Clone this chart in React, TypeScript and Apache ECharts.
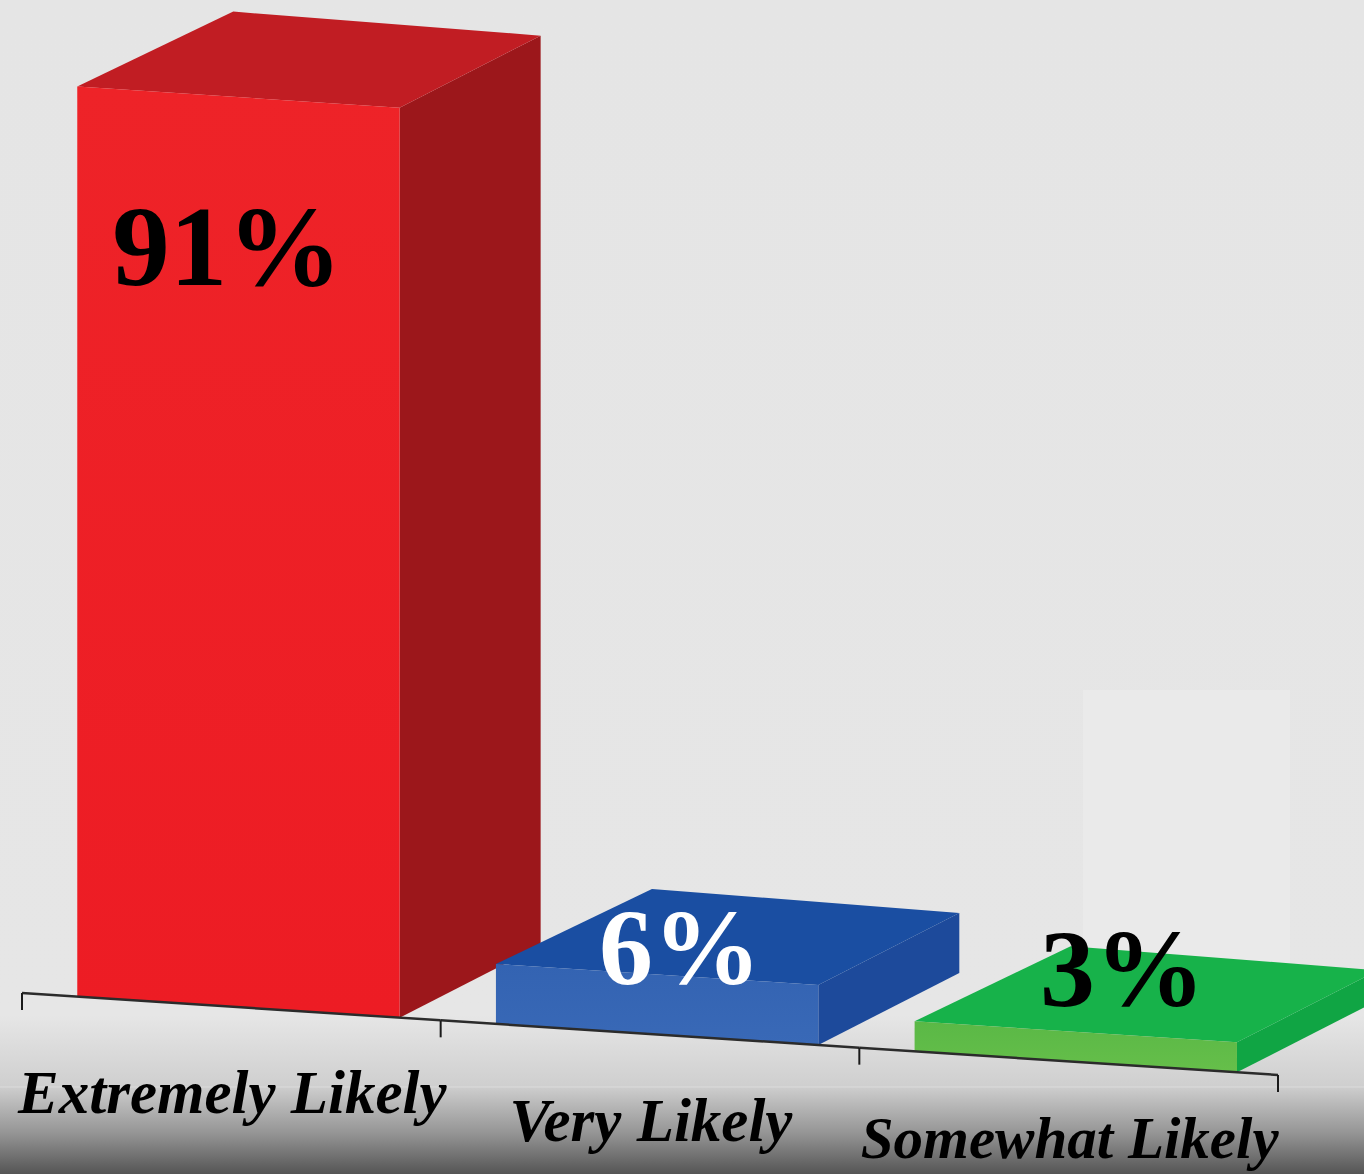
import { useEffect, useRef } from "react";
import * as echarts from "echarts";

// ---- data ----
const categories = ["Extremely Likely", "Very Likely", "Somewhat Likely"];
const values = [91, 6, 3];
const valueLabels = ["91%", "6%", "3%"];

// ---- styles ----
const frontColors = [
  ["#EE2328", "#ED1C24"],
  ["#3363B2", "#3969B7"],
  ["#5AB846", "#66BF4A"],
];
const topColors = ["#C11D23", "#1A4EA2", "#17B24A"];
const sideColors = ["#9C171B", "#1D4A9B", "#10A544"];
const labelColors = ["#000000", "#FFFFFF", "#000000"];
const labelSizes = [115, 108, 110];
const labelOffsets = [
  [150, 160],
  [184, -16],
  [208, -52],
];
const catLabelSizes = [61, 61, 59];
const catLabelOffsets = [86, 86, 77];

const SLOPE = 82 / 1256;
const DEPTH_L = [156, -75];
const DEPTH_R = [141, -72];

export default function App() {
  const ref = useRef<HTMLDivElement>(null);
  useEffect(() => {
    const chart = echarts.init(ref.current!, null, { renderer: "svg" });
    const option: any = {
      animation: false,
      backgroundColor: {
        type: "linear",
        x: 0,
        y: 0,
        x2: 0,
        y2: 1,
        colorStops: [
          { offset: 0, color: "#e5e5e5" },
          { offset: 0.865, color: "#e6e6e6" },
          { offset: 0.925, color: "#cfcfcf" },
          { offset: 0.965, color: "#959595" },
          { offset: 1, color: "#555555" },
        ],
      },
      graphic: [
        {
          type: "rect",
          z: 0,
          shape: { x: 1083, y: 690, width: 207, height: 330 },
          style: { fill: "#eaeaea" },
        },
        {
          type: "line",
          z: 0,
          shape: { x1: 0, y1: 1087, x2: 1364, y2: 1087 },
          style: { stroke: "rgba(255,255,255,0.3)", lineWidth: 1 },
        },
      ],
      grid: { left: 22, right: 86, top: 43, bottom: 181 },
      xAxis: {
        type: "category",
        data: categories,
        show: false,
        boundaryGap: true,
      },
      yAxis: { type: "value", min: 0, max: 95, show: false },
      series: [
        {
          type: "custom",
          z: 2,
          data: values.map((v, i) => [i, v]),
          encode: { x: 0, y: 1 },
          renderItem: (params: any, api: any) => {
            const idx = api.value(0);
            const val = api.value(1);
            const [cx, yb] = api.coord([idx, 0]);
            const yt = api.coord([idx, val])[1];
            const band = api.size([1, 0])[0];
            const gridLeft = params.coordSys.x;
            const bandStart = cx - band / 2;
            const L = bandStart + band * 0.132;
            const R = L + band * 0.77;
            const h = yb - yt;
            const sy = (x: number) => yb + SLOPE * (x - gridLeft);
            const FLb = [L, sy(L)];
            const FRb = [R, sy(R)];
            const FLt = [L, sy(L) - h];
            const FRt = [R, sy(R) - h];
            const BLt = [FLt[0] + DEPTH_L[0], FLt[1] + DEPTH_L[1]];
            const BRt = [FRt[0] + DEPTH_R[0], FRt[1] + DEPTH_R[1]];
            const BRb = [FRb[0] + DEPTH_R[0], FRb[1] + DEPTH_R[1]];
            const fc = frontColors[idx];
            return {
              type: "group",
              children: [
                {
                  type: "polygon",
                  shape: { points: [FRb, FRt, BRt, BRb] },
                  style: { fill: sideColors[idx] },
                },
                {
                  type: "polygon",
                  shape: { points: [FLt, FRt, BRt, BLt] },
                  style: { fill: topColors[idx] },
                },
                {
                  type: "polygon",
                  shape: { points: [FLb, FRb, FRt, FLt] },
                  style: {
                    fill: new echarts.graphic.LinearGradient(0, 0, 0, 1, [
                      { offset: 0, color: fc[0] },
                      { offset: 1, color: fc[1] },
                    ]),
                  },
                },
                {
                  type: "text",
                  x: FLt[0] + labelOffsets[idx][0],
                  y: FLt[1] + labelOffsets[idx][1],
                  style: {
                    text: valueLabels[idx],
                    fill: labelColors[idx],
                    fontFamily: "Liberation Serif",
                    fontWeight: "bold",
                    fontSize: labelSizes[idx],
                    align: "center",
                    verticalAlign: "middle",
                  },
                },
              ],
            };
          },
        },
        {
          type: "custom",
          z: 3,
          data: categories.map((_, i) => [i, 0]),
          encode: { x: 0, y: 1 },
          renderItem: (params: any, api: any) => {
            const idx = api.value(0);
            const [cx, yb] = api.coord([idx, 0]);
            const band = api.size([1, 0])[0];
            const gridLeft = params.coordSys.x;
            const sy = (x: number) => yb + SLOPE * (x - gridLeft);
            const x0 = cx - band / 2;
            const x1 = cx + band / 2;
            const children: any[] = [
              {
                type: "line",
                shape: { x1: x0, y1: sy(x0), x2: x1, y2: sy(x1) },
                style: { stroke: "#2b2b2b", lineWidth: 2.5 },
              },
              {
                type: "line",
                shape: { x1: x0, y1: sy(x0), x2: x0, y2: sy(x0) + 17 },
                style: { stroke: "#1a1a1a", lineWidth: 2 },
              },
              {
                type: "text",
                x: cx + 1,
                y: sy(cx) + catLabelOffsets[idx],
                style: {
                  text: categories[idx],
                  fill: "#000000",
                  fontFamily: "Liberation Serif",
                  fontWeight: "bold",
                  fontStyle: "italic",
                  fontSize: catLabelSizes[idx],
                  align: "center",
                  verticalAlign: "middle",
                },
              },
            ];
            if (idx === categories.length - 1) {
              children.push({
                type: "line",
                shape: { x1: x1, y1: sy(x1), x2: x1, y2: sy(x1) + 17 },
                style: { stroke: "#1a1a1a", lineWidth: 2 },
              });
            }
            return { type: "group", children };
          },
        },
      ],
    };
    chart.setOption(option);
    return () => chart.dispose();
  }, []);
  return (
    <div
      ref={ref}
      style={{ position: "absolute", left: 0, top: 0, width: 1364, height: 1174 }}
    />
  );
}
